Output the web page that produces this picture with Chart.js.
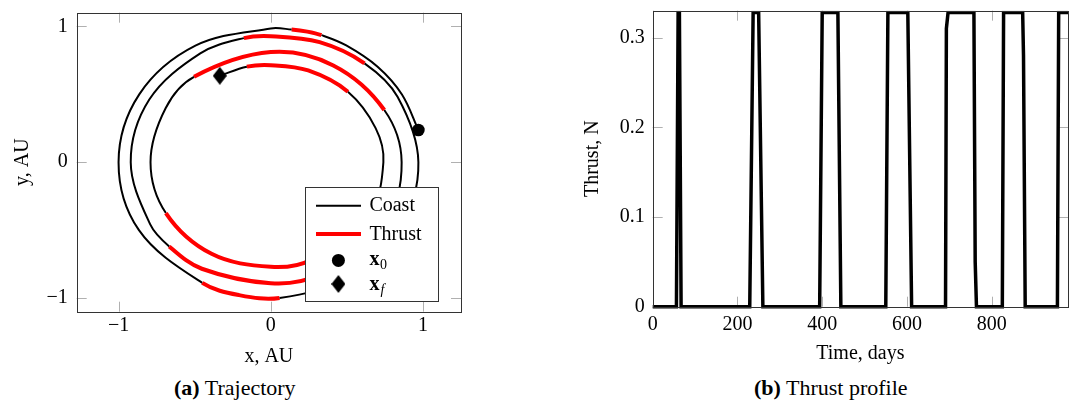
<!DOCTYPE html>
<html><head><meta charset="utf-8">
<script src="https://cdn.jsdelivr.net/npm/chart.js@4.4.1/dist/chart.umd.min.js"></script>
<style>
html,body{margin:0;padding:0;background:#fff;overflow:hidden;width:1070px;height:420px;}
#c1{position:absolute;left:0;top:0;}
#c2{position:absolute;left:560px;top:0;}
.cap{position:absolute;font-family:'Liberation Serif',serif;font-size:22px;line-height:22px;white-space:nowrap;color:#000;top:377px;}
</style></head><body>
<canvas id="c1" width="470" height="372"></canvas>
<canvas id="c2" width="510" height="372"></canvas>
<div class="cap" style="left:174px"><b>(a)</b> Trajectory</div>
<div class="cap" style="left:754px"><b>(b)</b> Thrust profile</div>
<script>
// ---------- data: trajectory (AU) ----------
const trajX = [0.970, 0.862, 0.702, 0.496, 0.333, 0.240, 0.137, 0.000, -0.495, -0.864, -1.000, -0.866, -0.450, -0.208, 0.058, 0.495, 0.847,
               0.970, 0.833, 0.616, 0.321, 0.000, -0.177, -0.463, -0.798, -0.920, -0.792, -0.667, -0.453, 0.000, 0.303, 0.753,
               0.860, 0.746, 0.411, 0.000, -0.504, -0.690, -0.790, -0.689, -0.389, 0.000, 0.262, 0.650,
               0.740, 0.689, 0.507, 0.246, 0.000, -0.157, -0.335];
const trajY = [0.237, 0.498, 0.702, 0.859, 0.935, 0.961, 0.976, 0.984, 0.857, 0.499, 0.000, -0.500, -0.888, -0.978, -0.999, -0.857, -0.489,
               0.000, 0.481, 0.727, 0.883, 0.927, 0.913, 0.801, 0.461, 0.000, -0.458, -0.620, -0.784, -0.890, -0.832, -0.435,
               0.000, 0.384, 0.712, 0.810, 0.628, 0.399, 0.000, -0.374, -0.674, -0.770, -0.719, -0.375,
               0.000, 0.251, 0.518, 0.675, 0.714, 0.703, 0.636];
// 1 = thrust arc from point i to point i+1, 0 = coast arc
const trajThrust = [0,0,0,0,1,1,0,0,0,0,0,0,1,1,0,0,0,
                    0,0,1,1,1,0,0,0,0,0,1,1,1,0,0,
                    0,1,1,1,0,0,0,1,1,1,0,0,
                    0,0,1,1,1,0,0];
const x0Point = {x: 0.970, y: 0.237};
const xfPoint = {x: -0.335, y: 0.636};
const trajTicks = [-1, 0, 1];
const trajTickLabels = ['\u22121', '0', '1'];
const legendLabels = ['Coast', 'Thrust'];

// ---------- data: thrust profile ----------
const timeDays = [0, 56, 60, 63, 67, 229, 237, 250, 260, 394, 400, 437, 444, 550, 555, 602, 611,
                  691, 693, 697, 758, 761, 764, 825, 828, 873, 875, 879, 955, 958, 980];
const thrustN  = [0, 0, 0.328, 0.328, 0, 0, 0.328, 0.328, 0, 0, 0.328, 0.328, 0, 0, 0.328, 0.328, 0,
                  0, 0.31, 0.328, 0.328, 0.05, 0, 0, 0.328, 0.328, 0.28, 0, 0, 0.328, 0.328];
const timeTicks = [0, 200, 400, 600, 800];
const thrustTicks = [0, 0.1, 0.2, 0.3];
const thrustTickLabels = ['0', '0.1', '0.2', '0.3'];

// ---------- styling ----------
Chart.defaults.font.family = "'Liberation Serif', serif";
Chart.defaults.font.size = 20;
Chart.defaults.color = '#000';

function makeDiamond(w, h) {
  const c = document.createElement('canvas'); c.width = w; c.height = h;
  const g = c.getContext('2d'); g.fillStyle = '#000';
  g.beginPath(); g.moveTo(w/2, 0); g.lineTo(w, h/2); g.lineTo(w/2, h); g.lineTo(0, h/2); g.closePath(); g.fill();
  return c;
}
const diamond = makeDiamond(14, 18);

function fixWidth(w) { return s => { s.width = w; s.paddingTop = 0; s.paddingBottom = 0; s.paddingLeft = 0; s.paddingRight = 0; }; }
function fixHeight(h) { return s => { s.height = h; s.paddingTop = 0; s.paddingBottom = 0; s.paddingLeft = 0; s.paddingRight = 0; }; }
const noGrid = {display: false, drawTicks: false, tickLength: 0};

const tickFrame = {
  id: 'tickFrame',
  beforeDatasetsDraw(chart) {
    const {ctx, chartArea: a, scales: {x, y}} = chart;
    const L = 10;
    ctx.save();
    ctx.strokeStyle = '#b0b0b0'; ctx.lineWidth = 1;
    ctx.beginPath();
    x.ticks.forEach(t => {
      const p = Math.round(x.getPixelForValue(t.value)) + 0.5;
      ctx.moveTo(p, a.bottom); ctx.lineTo(p, a.bottom - L);
      ctx.moveTo(p, a.top); ctx.lineTo(p, a.top + L);
    });
    y.ticks.forEach(t => {
      const p = Math.round(y.getPixelForValue(t.value)) + 0.5;
      ctx.moveTo(a.left, p); ctx.lineTo(a.left + L, p);
      ctx.moveTo(a.right, p); ctx.lineTo(a.right - L, p);
    });
    ctx.stroke();
    ctx.restore();
  },
  afterDatasetsDraw(chart) {
    const {ctx, chartArea: a} = chart;
    ctx.save();
    ctx.strokeStyle = '#333'; ctx.lineWidth = 1;
    ctx.strokeRect(Math.round(a.left) + 0.5, Math.round(a.top) + 0.5, Math.round(a.right) - Math.round(a.left), Math.round(a.bottom) - Math.round(a.top));
    ctx.restore();
  }
};

const trajLegend = {
  id: 'trajLegend',
  afterDraw(chart) {
    const {ctx, chartArea: a} = chart;
    const w = 133, h = 114;
    const lx = Math.round(a.right - 23.3 - w), ly = Math.round(a.bottom - 10.4 - h);
    ctx.save();
    ctx.fillStyle = '#fff'; ctx.fillRect(lx, ly, w, h);
    ctx.strokeStyle = '#333'; ctx.lineWidth = 1; ctx.strokeRect(lx + 0.5, ly + 0.5, w, h);
    const s0 = lx + 11, s1 = lx + 56, tx = lx + 64.4, mx = lx + 33.4;
    ctx.lineCap = 'butt';
    ctx.strokeStyle = '#000'; ctx.lineWidth = 2;
    ctx.beginPath(); ctx.moveTo(s0, ly + 18.7); ctx.lineTo(s1, ly + 18.7); ctx.stroke();
    ctx.strokeStyle = '#ff0000'; ctx.lineWidth = 4;
    ctx.beginPath(); ctx.moveTo(s0, ly + 47); ctx.lineTo(s1, ly + 47); ctx.stroke();
    ctx.fillStyle = '#000';
    ctx.textBaseline = 'alphabetic'; ctx.textAlign = 'left';
    ctx.font = "20px 'Liberation Serif'";
    ctx.fillText(legendLabels[0], tx, ly + 24.4);
    ctx.fillText(legendLabels[1], tx, ly + 52.7);
    ctx.beginPath(); ctx.arc(mx, ly + 73.4, 6.5, 0, Math.PI * 2); ctx.fill();
    ctx.font = "bold 20px 'Liberation Serif'";
    ctx.fillText('x', tx, ly + 77.7);
    const xw = ctx.measureText('x').width;
    ctx.font = "14px 'Liberation Serif'";
    ctx.fillText('0', tx + xw + 0.5, ly + 81.7);
    ctx.drawImage(diamond, mx - 7, ly + 97 - 9);
    ctx.font = "bold 20px 'Liberation Serif'";
    ctx.fillText('x', tx, ly + 102.7);
    ctx.font = "italic 14px 'Liberation Serif'";
    ctx.fillText('f', tx + xw + 1, ly + 106.5);
    ctx.restore();
  }
};

// ---------- chart (a): trajectory ----------
const trajData = trajX.map((x, i) => ({x, y: trajY[i]}));
new Chart(document.getElementById('c1'), {
  type: 'line',
  data: {
    datasets: [
      {label: 'x0', data: [x0Point], showLine: false, pointRadius: 6.3, pointStyle: 'circle',
       backgroundColor: '#000', borderColor: '#000', borderWidth: 0, order: 0},
      {label: 'xf', data: [xfPoint], showLine: false, pointRadius: 9, pointStyle: diamond,
       backgroundColor: '#000', borderColor: '#000', borderWidth: 0, order: 0},
      {label: 'Trajectory', data: trajData, pointRadius: 0, tension: 0.35, borderColor: '#000', borderWidth: 2,
       borderCapStyle: 'butt', order: 1,
       segment: {
         borderColor: c => trajThrust[c.p0DataIndex] ? '#ff0000' : '#000',
         borderWidth: c => trajThrust[c.p0DataIndex] ? 4 : 2
       }}
    ]
  },
  options: {
    responsive: false, animation: false, devicePixelRatio: 1,
    layout: {padding: {top: 12.7, right: 6, bottom: 0, left: 0}},
    plugins: {legend: {display: false}, tooltip: {enabled: false}},
    scales: {
      x: {type: 'linear', min: -1.275, max: 1.25,
          grid: noGrid, border: {display: false},
          afterBuildTicks: s => { s.ticks = trajTicks.map(v => ({value: v})); },
          ticks: {padding: 2.5, maxRotation: 0, callback: (v) => trajTickLabels[trajTicks.indexOf(v)]},
          title: {display: true, text: 'x, AU', padding: {top: 0, bottom: 3}},
          afterFit: fixHeight(60.3)},
      y: {type: 'linear', min: -1.1, max: 1.1,
          grid: noGrid, border: {display: false},
          afterBuildTicks: s => { s.ticks = trajTicks.map(v => ({value: v})); },
          ticks: {padding: 9, callback: (v) => trajTickLabels[trajTicks.indexOf(v)]},
          title: {display: true, text: 'y, AU', padding: {top: 11, bottom: 0}},
          afterFit: fixWidth(76.7)}
    }
  },
  plugins: [tickFrame, trajLegend]
});

// ---------- chart (b): thrust profile ----------
new Chart(document.getElementById('c2'), {
  type: 'line',
  data: {
    datasets: [{label: 'Thrust', data: timeDays.map((d, i) => ({x: d, y: thrustN[i]})),
      borderColor: '#000', borderWidth: 3.5, pointRadius: 0, tension: 0,
      borderJoinStyle: 'miter', borderCapStyle: 'butt',
      clip: {left: 2, top: 0, right: 0, bottom: 3}}]
  },
  options: {
    responsive: false, animation: false, devicePixelRatio: 1,
    layout: {padding: {top: 10.7, right: 2, bottom: 0, left: 0}},
    plugins: {legend: {display: false}, tooltip: {enabled: false}},
    scales: {
      x: {type: 'linear', min: 0, max: 980,
          grid: noGrid, border: {display: false},
          afterBuildTicks: s => { s.ticks = timeTicks.map(v => ({value: v})); },
          ticks: {padding: 6, maxRotation: 0, callback: v => String(v)},
          title: {display: true, text: 'Time, days', padding: {top: 0, bottom: 6}},
          afterFit: fixHeight(65.3)},
      y: {type: 'linear', min: 0, max: 0.33,
          grid: noGrid, border: {display: false},
          afterBuildTicks: s => { s.ticks = thrustTicks.map(v => ({value: v})); },
          ticks: {padding: 8, callback: v => thrustTickLabels[thrustTicks.indexOf(v)]},
          title: {display: true, text: 'Thrust, N', padding: {top: 20.3, bottom: 0}},
          afterFit: fixWidth(92.7)}
    }
  },
  plugins: [tickFrame]
});
</script>
</body></html>
